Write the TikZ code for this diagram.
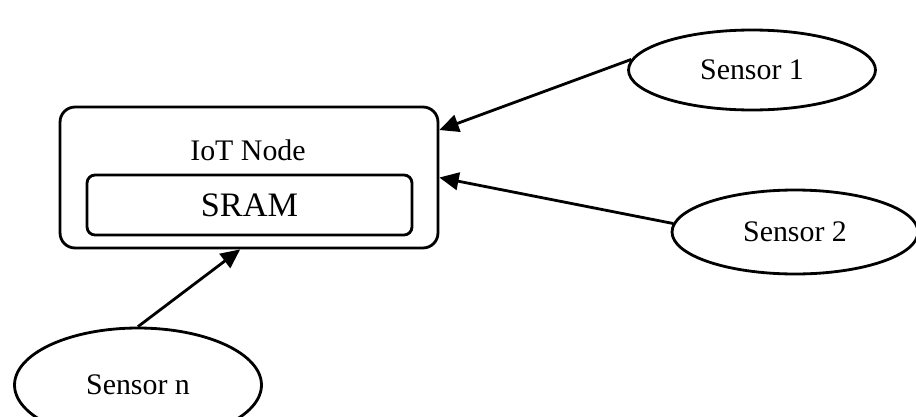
\documentclass[tikz,border=0pt]{standalone}
\usepackage{fontspec}
\setmainfont{Liberation Serif}
\usetikzlibrary{arrows.meta,shapes.geometric}
\begin{document}
\begin{tikzpicture}[x=0.02cm, y=-0.02cm, line width=1.6pt]
\useasboundingbox (0,0) rectangle (916,416);
\begin{scope}[every node/.style = {draw, inner sep=0pt, font=\fontsize{17}{20}\selectfont}]
\node[rounded corners=0.3cm, minimum width=7.56cm, minimum height=2.82cm] (iot) at (249, 177.5) {};
\node[draw=none] (iotlabel) at (248, 150) {IoT Node};
\node[rounded corners=0.16cm, minimum width=6.5cm, minimum height=1.2cm,
  font=\fontsize{19.5}{22}\selectfont] (sram) at (249.5, 205) {SRAM};
\node[ellipse, minimum width=4.94cm, minimum height=1.6cm] (s1) at (752, 70) {Sensor 1};
\node[ellipse, minimum width=4.92cm, minimum height=1.68cm] (s2) at (795, 232) {Sensor 2};
\node[ellipse, minimum width=4.94cm, minimum height=2.28cm] (sn) at (138, 385) {Sensor n};
\end{scope}
\begin{scope}[every edge/.style = {draw, line width=1.6pt, -{Triangle[length=11pt, width=10pt]}}]
\path (s1.175) edge (iot.14.5);
\path (s2.176) edge (iot.east);
\path (sn.north) edge (iot.263);
\end{scope}
\end{tikzpicture}
\end{document}
